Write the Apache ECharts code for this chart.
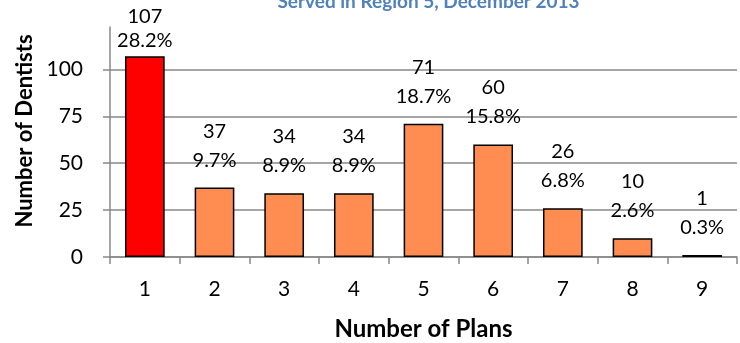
<!DOCTYPE html>
<html><head><meta charset="utf-8">
<script src="https://cdn.jsdelivr.net/npm/echarts@6/dist/echarts.min.js"></script>
<style>html,body{margin:0;padding:0;background:#fff}#c{width:740px;height:343px}</style>
</head><body><div id="c"></div>
<script>
const categories = ['1','2','3','4','5','6','7','8','9'];
const dentists = [107, 37, 34, 34, 71, 60, 26, 10, 1];
const percents = ['28.2%','9.7%','8.9%','8.9%','18.7%','15.8%','6.8%','2.6%','0.3%'];
const yTicks = [0, 25, 50, 75, 100];
const titleText = 'Served in Region 5, December 2013';

const FONT = 'Lato, "Open Sans", sans-serif';
const chart = echarts.init(document.getElementById('c'));
const data = dentists.map((v, i) => {
  const item = { value: v };
  if (i === 0) {
    item.itemStyle = { color: '#FF0000' };
    item.label = { distance: 4, lineHeight: 24 };
  }
  return item;
});
chart.setOption({
  animation: false,
  title: {
    text: titleText, left: 423.5, textAlign: 'center', top: -13,
    textStyle: { color: '#4F81BD', fontFamily: FONT, fontWeight: 'bold', fontSize: 19 }
  },
  grid: { left: 110, right: 3, top: 27, bottom: 86, containLabel: false, outerBoundsMode: 'none' },
  xAxis: {
    type: 'category', data: categories,
    name: 'Number of Plans', nameLocation: 'middle', nameGap: 60,
    nameTextStyle: { color: '#000', fontFamily: FONT, fontWeight: 'bold', fontSize: 24 },
    axisLine: { lineStyle: { color: '#888', width: 1.5 } },
    axisTick: { show: true, length: 7, lineStyle: { color: '#888', width: 1.5 } },
    axisLabel: { color: '#000', fontFamily: FONT, fontSize: 21, margin: 22 }
  },
  yAxis: {
    type: 'value', min: 0, max: 122.6,
    name: 'Number of Dentists', nameLocation: 'middle', nameGap: 74,
    nameTextStyle: { color: '#000', fontFamily: FONT, fontWeight: 'bold', fontSize: 22, padding: [0, 0, 0, 22] },
    axisLine: { show: true, lineStyle: { color: '#888', width: 1.5 } },
    axisTick: { show: true, length: 7, customValues: yTicks, lineStyle: { color: '#888', width: 1.5 } },
    axisLabel: { color: '#000', fontFamily: FONT, fontSize: 21, margin: 27, customValues: yTicks },
    splitLine: { show: true, lineStyle: { color: '#888', width: 1.5 } }
  },
  series: [{
    type: 'bar', data: data, barWidth: '57%',
    itemStyle: { color: '#FF8C50', borderColor: '#000', borderWidth: 1.5 },
    label: {
      show: true, position: 'top', distance: 13, lineHeight: 29,
      color: '#000', fontFamily: FONT, fontSize: 20,
      formatter: p => p.value + '\n' + percents[p.dataIndex]
    }
  }]
});
</script></body></html>
